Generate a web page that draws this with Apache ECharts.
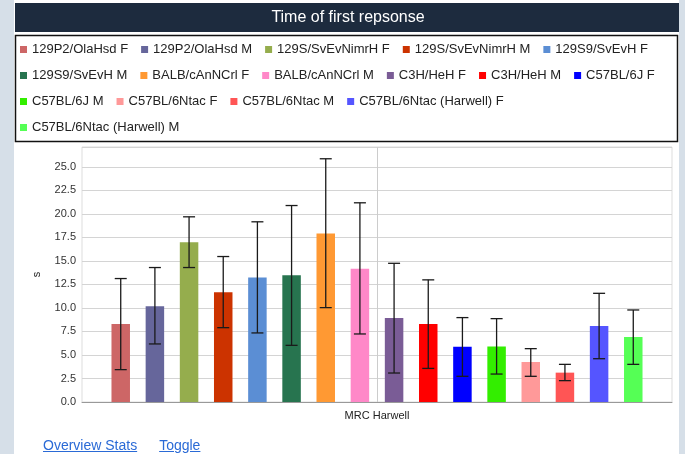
<!DOCTYPE html>
<html>
<head>
<meta charset="utf-8">
<script src="https://cdn.jsdelivr.net/npm/echarts@6/dist/echarts.min.js"></script>
<style>
html,body{margin:0;padding:0;background:#d6dfe8;width:685px;height:454px;overflow:hidden;font-family:"Liberation Sans",Arial,sans-serif;}
#panel{position:absolute;left:14px;top:0;width:665px;height:454px;background:#fff;}
#chart{position:absolute;left:0;top:0;width:685px;height:454px;}
#links{position:absolute;left:43px;top:437px;font-size:14px;}
#links a{color:#2a6ad6;text-decoration:underline;margin-right:22px;}
</style>
</head>
<body>
<div id="panel"></div>
<div id="chart"></div>
<div id="links"><a href="#">Overview Stats</a><a href="#">Toggle</a></div>
<script>
const titleText = 'Time of first repsonse';
const categories = ['MRC Harwell'];
const seriesNames = ['129P2/OlaHsd F','129P2/OlaHsd M','129S/SvEvNimrH F','129S/SvEvNimrH M','129S9/SvEvH F','129S9/SvEvH M','BALB/cAnNCrl F','BALB/cAnNCrl M','C3H/HeH F','C3H/HeH M','C57BL/6J F','C57BL/6J M','C57BL/6Ntac F','C57BL/6Ntac M','C57BL/6Ntac (Harwell) F','C57BL/6Ntac (Harwell) M'];
const seriesColors = ['#cd6666','#66669b','#95ad4d','#cc3300','#5b8ed4','#27744f','#ff9933','#ff88c8','#7a5c96','#ff0000','#0000ff','#33ee00','#ff9999','#ff5555','#5555ff','#55ff55'];
const means = [8.30,10.17,16.98,11.66,13.22,13.47,17.90,14.15,8.94,8.30,5.88,5.91,4.25,3.12,8.09,6.91];
const errLow = [3.44,6.17,14.29,7.90,7.34,6.02,10.03,7.23,3.08,3.57,2.73,2.97,2.73,2.27,4.60,4.00];
const errHigh = [13.12,14.29,19.68,15.46,19.15,20.88,25.85,21.17,14.74,12.98,8.97,8.86,5.67,4.00,11.55,9.78];
const yTicks = ['0.0','2.5','5.0','7.5','10.0','12.5','15.0','17.5','20.0','22.5','25.0'];
const yAxisName = 's';

const BAR_W = 18.5;
const GAP_RATIO = 0.847;
const N = seriesNames.length;

const chart = echarts.init(document.getElementById('chart'), null, {renderer:'canvas'});

const barSeries = seriesNames.map((name, i) => ({
  name: name,
  type: 'bar',
  data: [means[i]],
  barWidth: BAR_W,
  barGap: (GAP_RATIO*100) + '%',
  itemStyle: {color: seriesColors[i]},
  animation: false
}));

const errData = seriesNames.map((n, i) => [0, errLow[i], errHigh[i], i]);

const errSeries = {
  type: 'custom',
  name: 'err',
  animation: false,
  silent: true,
  encode: {x: 0, y: [1, 2]},
  data: errData,
  z: 10,
  markLine: {
    silent: true, symbol: 'none', label: {show: false}, z: 1,
    lineStyle: {color: '#cccccc', width: 1, type: 'solid'},
    data: [{xAxis: categories[0]}]
  },
  renderItem: function (params, api) {
    const idx = api.value(3);
    const lo = api.coord([api.value(0), api.value(1)]);
    const hi = api.coord([api.value(0), api.value(2)]);
    const step = BAR_W * (1 + GAP_RATIO);
    const x = lo[0] + (idx - (N - 1) / 2) * step;
    const cap = 6;
    const st = {stroke: '#1a1a1a', lineWidth: 1.3};
    return {
      type: 'group',
      children: [
        {type: 'line', shape: {x1: x, y1: lo[1], x2: x, y2: hi[1]}, style: st},
        {type: 'line', shape: {x1: x - cap, y1: hi[1], x2: x + cap, y2: hi[1]}, style: st},
        {type: 'line', shape: {x1: x - cap, y1: lo[1], x2: x + cap, y2: lo[1]}, style: st}
      ]
    };
  }
};

const option = {
  animation: false,
  textStyle: {fontFamily: '"Liberation Sans", Arial, sans-serif'},
  graphic: [
    {type: 'rect', shape: {x: 15, y: 3, width: 664, height: 29}, style: {fill: '#1d2b3e'}, z: 0},
    {type: 'text', x: 348, y: 18, style: {text: titleText, fill: '#ffffff', font: '16px "Liberation Sans", Arial, sans-serif', align: 'center', verticalAlign: 'middle'}, z: 1},
    {type: 'rect', shape: {x: 15.5, y: 35.5, width: 662, height: 106}, style: {fill: 'none', stroke: '#111111', lineWidth: 1.5}, z: 0}
  ],
  legend: {
    data: seriesNames,
    left: 20,
    top: 43,
    width: 640,
    padding: 0,
    icon: 'rect',
    itemWidth: 7,
    itemHeight: 7,
    itemGap: 13,
    textStyle: {fontSize: 13, color: '#222222', lineHeight: 13, fontFamily: '"Liberation Sans", Arial, sans-serif'},
    selectedMode: false
  },
  grid: {
    left: 82, right: 13, top: 147, bottom: 52,
    show: true, borderColor: '#dddddd', borderWidth: 1, backgroundColor: 'transparent'
  },
  xAxis: {
    type: 'category',
    data: categories,
    axisTick: {show: false},
    axisLine: {lineStyle: {color: '#999999'}},
    axisLabel: {color: '#222222', fontSize: 11, margin: 8},
    splitLine: {show: false}
  },
  yAxis: {
    type: 'value',
    min: 0,
    max: 27.1,
    interval: 2.5,
    name: yAxisName,
    nameLocation: 'middle',
    nameRotate: 90,
    nameGap: 40,
    nameTextStyle: {fontSize: 11, color: '#222222'},
    axisLine: {show: false},
    axisTick: {show: false},
    axisLabel: {
      color: '#333333', fontSize: 11, margin: 6,
      formatter: function (v) {
        const k = Math.round(v / 2.5);
        if (Math.abs(v - k * 2.5) > 1e-6) return '';
        return yTicks[k] !== undefined ? yTicks[k] : '';
      }
    },
    splitLine: {lineStyle: {color: '#d4d4d4', width: 1}}
  },
  series: barSeries.concat([errSeries])
};

chart.setOption(option);
</script>
</body>
</html>
